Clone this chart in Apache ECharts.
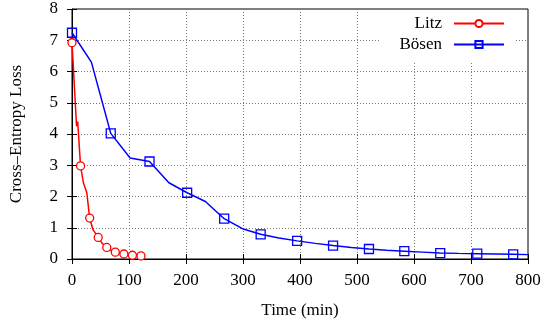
<!DOCTYPE html>
<html>
<head>
<meta charset="utf-8">
<script src="https://cdn.jsdelivr.net/npm/echarts@6/dist/echarts.min.js"></script>
<style>
  html, body { margin: 0; padding: 0; background: #fff; }
  #chart { width: 545px; height: 325px; }
</style>
</head>
<body>
<div id="chart"></div>
<script>
// Litz: [time (min), loss], only some samples carry a marker
const litzTime = [0, 8, 10, 15, 20, 26, 31, 37, 46, 53, 61, 68, 76, 83, 91, 98, 106, 113, 121];
const litzLoss = [6.92, 4.25, 4.4, 2.98, 2.44, 2.12, 1.31, 0.93, 0.69, 0.5, 0.37, 0.28, 0.22, 0.19, 0.16, 0.14, 0.12, 0.11, 0.1];
const litzMarked = [0, 15, 31, 46, 61, 76, 91, 106, 121];

const bosenTime = [0, 34, 68, 102, 136, 170, 202, 234, 267, 299, 331, 363, 395, 427, 458, 490, 521, 552, 583, 615, 646, 678, 711, 743, 774, 800];
const bosenLoss = [7.24, 6.3, 4.02, 3.23, 3.12, 2.44, 2.12, 1.84, 1.29, 0.97, 0.79, 0.67, 0.58, 0.5, 0.43, 0.37, 0.32, 0.28, 0.25, 0.22, 0.19, 0.18, 0.17, 0.16, 0.15, 0.14];
const bosenMarked = [0, 68, 136, 202, 267, 331, 395, 458, 521, 583, 646, 711, 774];

const seriesNames = ["Litz", "Bösen"];

function buildData(times, losses, marked) {
  return times.map((t, i) => {
    const item = { value: [t, losses[i]] };
    if (marked.indexOf(t) < 0) {
      item.symbol = "none";
    }
    return item;
  });
}

const font = "Liberation Serif";
const fs = 17;
const chart = echarts.init(document.getElementById("chart"));

const option = {
  animation: false,
  backgroundColor: "#fff",
  textStyle: { fontFamily: font },
  grid: {
    left: 72,
    right: 17,
    top: 9,
    bottom: 66,
    show: true,
    borderColor: "#000",
    borderWidth: 1,
  },
  legend: {
    data: seriesNames,
    orient: "vertical",
    right: 30,
    top: 10,
    align: "right",
    itemWidth: 50,
    itemHeight: 9,
    itemGap: 4,
    padding: [5, 10, 8, 20],
    backgroundColor: "#fff",
    borderWidth: 0,
    textStyle: { fontFamily: font, fontSize: fs, color: "#000", padding: [0, 7, 0, 0] },
  },
  xAxis: [
    {
      type: "value",
      min: 0,
      max: 800,
      interval: 100,
      name: "Time (min)",
      nameLocation: "middle",
      nameGap: 43,
      nameTextStyle: { fontFamily: font, fontSize: fs, color: "#000" },
      axisLine: { lineStyle: { color: "#000" } },
      axisTick: { inside: true, length: 5, lineStyle: { color: "#000" } },
      axisLabel: { fontFamily: font, fontSize: fs, color: "#000", margin: 13 },
      splitLine: { lineStyle: { color: "#777", type: [1, 2] } },
    },
    {
      type: "value",
      position: "top",
      min: 0,
      max: 800,
      interval: 100,
      axisLine: { show: false },
      axisTick: { inside: true, length: 5, lineStyle: { color: "#000" } },
      axisLabel: { show: false },
      splitLine: { show: false },
    },
  ],
  yAxis: [
    {
      type: "value",
      min: 0,
      max: 8,
      interval: 1,
      name: "Cross\u2013Entropy Loss",
      nameLocation: "middle",
      nameGap: 47,
      nameTextStyle: { fontFamily: font, fontSize: fs, color: "#000" },
      axisLine: { lineStyle: { color: "#000" } },
      axisTick: { inside: true, length: 5, lineStyle: { color: "#000" } },
      axisLabel: { fontFamily: font, fontSize: fs, color: "#000", margin: 14 },
      splitLine: { lineStyle: { color: "#777", type: [1, 2] } },
    },
    {
      type: "value",
      position: "right",
      min: 0,
      max: 8,
      interval: 1,
      axisLine: { show: false },
      axisTick: { inside: true, length: 5, lineStyle: { color: "#000" } },
      axisLabel: { show: false },
      splitLine: { show: false },
    },
  ],
  series: [
    {
      name: seriesNames[0],
      type: "line",
      data: buildData(litzTime, litzLoss, litzMarked),
      symbol: "circle",
      symbolSize: 8,
      showAllSymbol: true,
      lineStyle: { color: "#ff0000", width: 1.5 },
      itemStyle: { color: "#fff", borderColor: "#ff0000", borderWidth: 1.3 },
      z: 3,
    },
    {
      name: seriesNames[1],
      type: "line",
      data: buildData(bosenTime, bosenLoss, bosenMarked),
      symbol: "rect",
      symbolSize: 9,
      showAllSymbol: true,
      lineStyle: { color: "#0000ff", width: 1.5 },
      itemStyle: { color: "rgba(255,255,255,0)", borderColor: "#0000ff", borderWidth: 1.3 },
      z: 2,
    },
  ],
};

chart.setOption(option);
</script>
</body>
</html>
